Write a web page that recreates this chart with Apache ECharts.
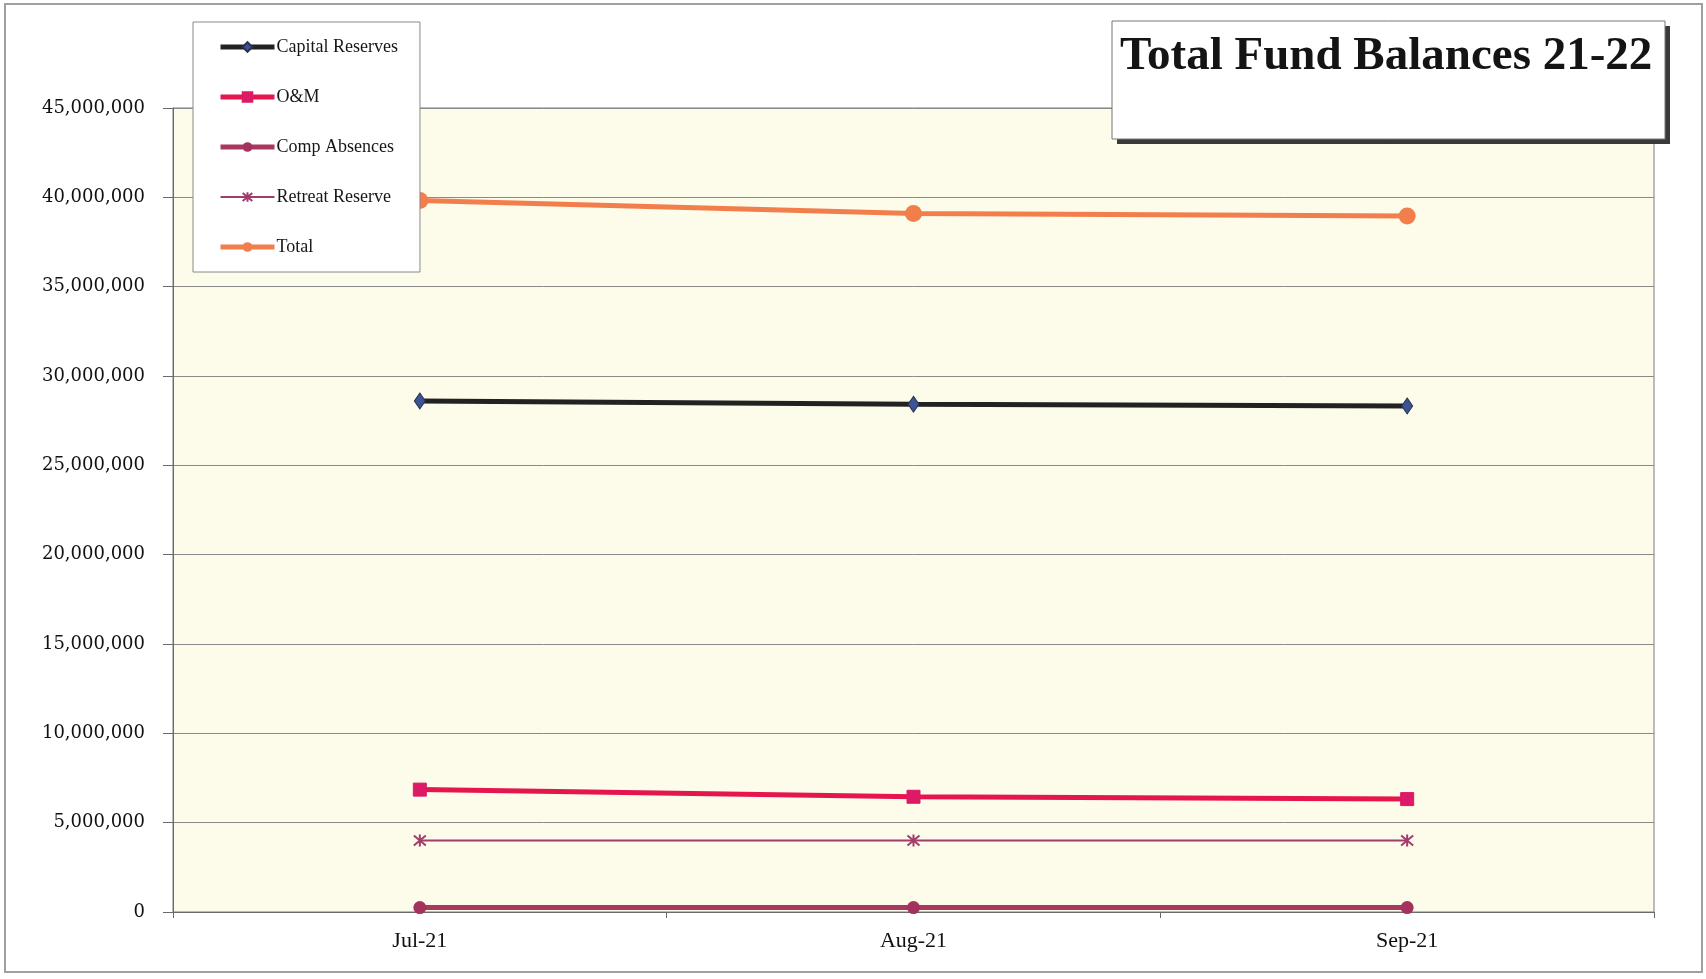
<!DOCTYPE html>
<html>
<head>
<meta charset="utf-8">
<title>Total Fund Balances 21-22</title>
<script src="https://cdn.jsdelivr.net/npm/echarts@6/dist/echarts.min.js"></script>
<style>
  html, body { margin: 0; padding: 0; background: #ffffff; }
  #chart { width: 1706px; height: 979px; }
</style>
</head>
<body>
<div id="chart"></div>
<script>
// Monthly fund balances, fiscal year 2021-22
const months = ['Jul-21', 'Aug-21', 'Sep-21'];
const capitalReserves = [28600000, 28420000, 28320000];
const oAndM = [6850000, 6450000, 6320000];
const compAbsences = [250000, 250000, 250000];
const retreatReserve = [4000000, 4000000, 4000000];
const total = [39820000, 39100000, 38950000];

const yMin = 0;
const yMax = 45000000;
const yStep = 5000000;

const titleText = 'Total Fund Balances 21-22';

const serif = '"Liberation Serif", "Times New Roman", serif';

const chart = echarts.init(document.getElementById('chart'));

// Excel-style asterisk marker: an X crossed by a vertical stroke
const asterisk = 'path://M0,0L10,10M10,0L0,10M5,-1L5,11';

const seriesStyles = {
  'Capital Reserves': { line: '#222222', width: 5 },
  'O&M': { line: '#e5164e', width: 5 },
  'Comp Absences': { line: '#a8385f', width: 5 },
  'Retreat Reserve': { line: '#a23c6b', width: 2 },
  'Total': { line: '#f27e4c', width: 5 }
};
const legendNames = ['Capital Reserves', 'O&M', 'Comp Absences', 'Retreat Reserve', 'Total'];

chart.setOption({
  backgroundColor: '#ffffff',
  animation: false,
  grid: {
    left: 173,
    right: 52,
    top: 108,
    bottom: 67,
    show: true,
    backgroundColor: '#fdfbea',
    borderColor: '#7a7a7a',
    borderWidth: 1
  },
  legend: {
    orient: 'vertical',
    left: 193,
    top: 22,
    padding: [15, 22, 15, 25],
    backgroundColor: '#ffffff',
    borderColor: '#8a8a8a',
    borderWidth: 1,
    itemWidth: 54,
    itemHeight: 12,
    itemGap: 30,
    textStyle: {
      fontFamily: serif,
      fontSize: 18,
      color: '#161616',
      lineHeight: 20,
      padding: [0, 0, 0, -3]
    },
    data: legendNames.map(name => ({
      name,
      lineStyle: { width: seriesStyles[name].width, color: seriesStyles[name].line }
    }))
  },
  xAxis: {
    type: 'category',
    data: months,
    boundaryGap: true,
    axisLine: { lineStyle: { color: '#6a6a6a', width: 1 } },
    axisTick: { show: true, length: 6, inside: false, lineStyle: { color: '#6a6a6a' } },
    axisLabel: {
      fontFamily: serif,
      fontSize: 22,
      color: '#111111',
      margin: 18
    },
    splitLine: { show: false }
  },
  yAxis: {
    type: 'value',
    min: yMin,
    max: yMax,
    interval: yStep,
    axisLine: { show: true, lineStyle: { color: '#6a6a6a', width: 1 } },
    axisTick: { show: true, length: 10, lineStyle: { color: '#6a6a6a' } },
    axisLabel: {
      fontFamily: '"DejaVu Serif", serif',
      fontSize: 18,
      color: '#111111',
      margin: 28,
      formatter: v => v.toLocaleString('en-US')
    },
    splitLine: { show: true, lineStyle: { color: '#8a8a8a', width: 1 } }
  },
  series: [
    {
      name: 'Capital Reserves',
      type: 'line',
      data: capitalReserves,
      symbol: 'diamond',
      symbolSize: [11, 16],
      lineStyle: { color: seriesStyles['Capital Reserves'].line, width: 5 },
      itemStyle: { color: '#3c5494', borderColor: '#26324f', borderWidth: 1 }
    },
    {
      name: 'O&M',
      type: 'line',
      data: oAndM,
      symbol: 'rect',
      symbolSize: 13,
      lineStyle: { color: seriesStyles['O&M'].line, width: 5 },
      itemStyle: { color: '#dc1a66', borderColor: '#dc1a66', borderWidth: 1 }
    },
    {
      name: 'Comp Absences',
      type: 'line',
      data: compAbsences,
      symbol: 'circle',
      symbolSize: 13,
      lineStyle: { color: seriesStyles['Comp Absences'].line, width: 5 },
      itemStyle: { color: '#a3325c' }
    },
    {
      name: 'Retreat Reserve',
      type: 'line',
      data: retreatReserve,
      symbol: asterisk,
      symbolSize: 12,
      lineStyle: { color: seriesStyles['Retreat Reserve'].line, width: 2 },
      itemStyle: { color: '#a23c6b', borderColor: '#a23c6b', borderWidth: 2 }
    },
    {
      name: 'Total',
      type: 'line',
      data: total,
      symbol: 'circle',
      symbolSize: 17,
      lineStyle: { color: seriesStyles['Total'].line, width: 5 },
      itemStyle: { color: '#f27e4c' }
    }
  ],
  graphic: [
    // page frame
    {
      type: 'rect',
      z: 1,
      silent: true,
      shape: { x: 5, y: 4, width: 1697, height: 968 },
      style: { fill: 'none', stroke: '#a0a0a0', lineWidth: 2 }
    },
    // title box drop shadow
    {
      type: 'rect',
      z: 100,
      silent: true,
      shape: { x: 1117, y: 26, width: 553, height: 118 },
      style: { fill: '#3a3a3a' }
    },
    // title box
    {
      type: 'rect',
      z: 101,
      silent: true,
      shape: { x: 1112, y: 21, width: 553, height: 118 },
      style: { fill: '#ffffff', stroke: '#777777', lineWidth: 1 }
    },
    {
      type: 'text',
      z: 102,
      silent: true,
      x: 1120,
      y: 57,
      style: {
        text: titleText,
        fill: '#141414',
        font: 'bold 47px ' + serif,
        verticalAlign: 'middle'
      }
    }
  ]
});
</script>
</body>
</html>
